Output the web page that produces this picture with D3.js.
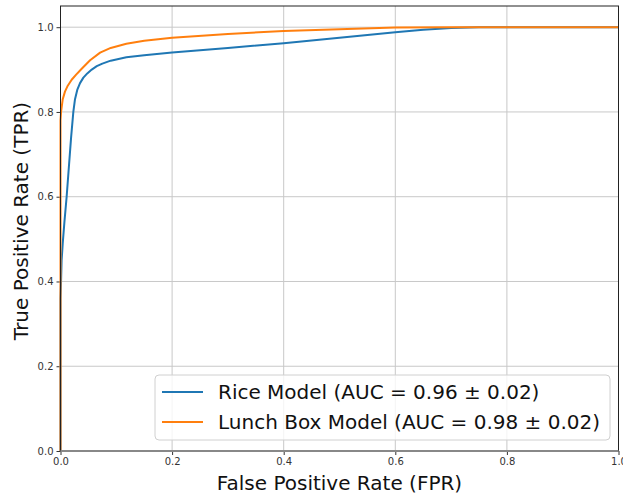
<!DOCTYPE html>
<html>
<head>
<meta charset="utf-8">
<script src="https://cdn.jsdelivr.net/npm/d3@7"></script>
<style>
  body { margin: 0; background: #fff; }
  text { font-family: "DejaVu Sans", sans-serif; }
</style>
</head>
<body>
<svg id="chart" width="623" height="497"></svg>
<script>
// ROC curves
const riceFpr = [0, 0, 0.001, 0.002, 0.004, 0.007, 0.011, 0.015, 0.019, 0.023, 0.026, 0.030, 0.035, 0.041, 0.048, 0.056, 0.065, 0.075, 0.09, 0.118, 0.15, 0.2, 0.3, 0.4, 0.5, 0.6, 0.65, 0.7, 0.75, 1.0];
const riceTpr = [0, 0.36, 0.40, 0.45, 0.49, 0.54, 0.60, 0.67, 0.74, 0.80, 0.83, 0.852, 0.868, 0.881, 0.891, 0.900, 0.908, 0.914, 0.921, 0.929, 0.934, 0.940, 0.951, 0.962, 0.975, 0.988, 0.994, 0.998, 1.0, 1.0];
const lunchFpr = [0, 0, 0.001, 0.004, 0.008, 0.013, 0.02, 0.028, 0.038, 0.053, 0.071, 0.09, 0.118, 0.15, 0.2, 0.3, 0.4, 0.5, 0.6, 0.7, 1.0];
const lunchTpr = [0, 0.78, 0.80, 0.83, 0.848, 0.862, 0.876, 0.888, 0.902, 0.922, 0.940, 0.951, 0.961, 0.968, 0.975, 0.984, 0.991, 0.995, 0.999, 1.0, 1.0];
const seriesNames = ["Rice Model (AUC = 0.96 ± 0.02)", "Lunch Box Model (AUC = 0.98 ± 0.02)"];
const seriesColors = ["#1f77b4", "#ff7f0e"];
const ticks = [0, 0.2, 0.4, 0.6, 0.8, 1.0];

const svg = d3.select("#chart");
const mLeft = 60.5, mRight = 618.5, mTop = 6, mBottom = 451;

const x = d3.scaleLinear().domain([0, 1]).range([mLeft, mRight]);
const y = d3.scaleLinear().domain([0, 1.05]).range([mBottom, mTop]);

// grid
svg.append("g").selectAll("line").data(ticks).join("line")
  .attr("x1", d => x(d)).attr("x2", d => x(d))
  .attr("y1", mTop).attr("y2", mBottom)
  .attr("stroke", "#c8c8c8").attr("stroke-width", 1);
svg.append("g").selectAll("line").data(ticks).join("line")
  .attr("x1", mLeft).attr("x2", mRight)
  .attr("y1", d => y(d)).attr("y2", d => y(d))
  .attr("stroke", "#c8c8c8").attr("stroke-width", 1);

// axes
const xAxis = svg.append("g").attr("transform", `translate(0,${mBottom})`)
  .call(d3.axisBottom(x).tickValues(ticks).tickFormat(d3.format(".1f")).tickSize(4).tickPadding(3));
const yAxis = svg.append("g").attr("transform", `translate(${mLeft},0)`)
  .call(d3.axisLeft(y).tickValues(ticks).tickFormat(d3.format(".1f")).tickSize(4).tickPadding(3));
[xAxis, yAxis].forEach(a => {
  a.select(".domain").remove();
  a.selectAll("text").attr("font-size", 10).attr("fill", "#333");
  a.selectAll("line").attr("stroke", "#333");
});

// curves
const line = d3.line().x(d => x(d[0])).y(d => y(d[1]));
const series = [d3.zip(riceFpr, riceTpr), d3.zip(lunchFpr, lunchTpr)];
svg.append("g").selectAll("path").data(series).join("path")
  .attr("d", line)
  .attr("fill", "none")
  .attr("stroke", (d, i) => seriesColors[i])
  .attr("stroke-width", 2)
  .attr("stroke-linejoin", "round");

// frame
svg.append("rect").attr("x", mLeft).attr("y", mTop)
  .attr("width", mRight - mLeft).attr("height", mBottom - mTop)
  .attr("fill", "none").attr("stroke", "#222").attr("stroke-width", 1);
svg.append("line").attr("x1", mLeft).attr("x2", mRight)
  .attr("y1", mBottom).attr("y2", mBottom)
  .attr("stroke", "#888").attr("stroke-width", 2);

// axis labels
svg.append("text").attr("x", (mLeft + mRight) / 2).attr("y", 490)
  .attr("text-anchor", "middle").attr("font-size", 20).attr("fill", "#111")
  .text("False Positive Rate (FPR)");
svg.append("text").attr("transform", "translate(28,221) rotate(-90)")
  .attr("text-anchor", "middle").attr("font-size", 20).attr("fill", "#111")
  .text("True Positive Rate (TPR)");

// legend
const leg = svg.append("g");
leg.append("rect").attr("x", 155).attr("y", 375).attr("width", 455).attr("height", 65)
  .attr("rx", 4).attr("fill", "#fff").attr("fill-opacity", 0.8)
  .attr("stroke", "#d0d0d0").attr("stroke-width", 1);
seriesNames.forEach((name, i) => {
  const cy = 392 + i * 30;
  leg.append("line").attr("x1", 162).attr("x2", 203).attr("y1", cy).attr("y2", cy)
    .attr("stroke", seriesColors[i]).attr("stroke-width", 2);
  leg.append("text").attr("x", 218).attr("y", cy + 7)
    .attr("font-size", 20).attr("fill", "#111").text(name);
});
</script>
</body>
</html>
